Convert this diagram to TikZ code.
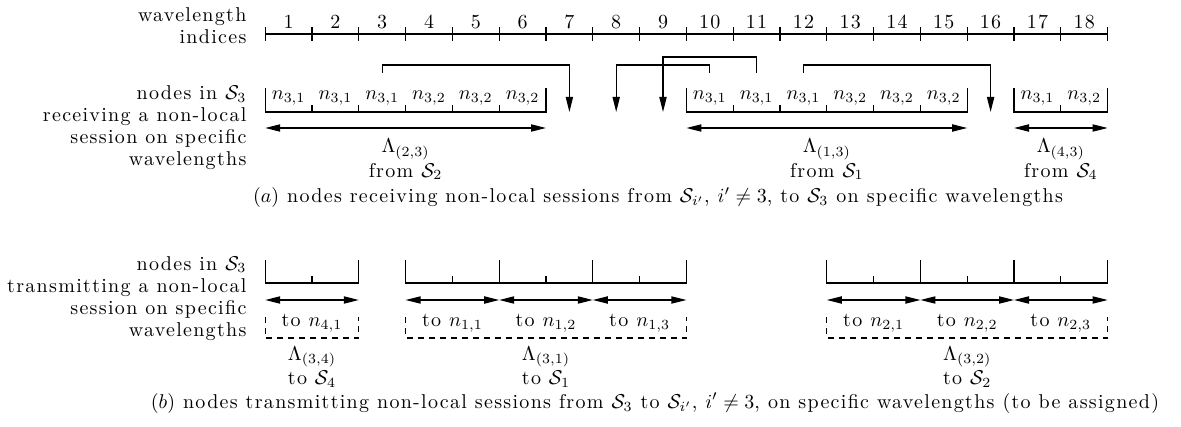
\documentclass[tikz,border=0pt]{standalone}
\usepackage{fontspec}
\setmainfont{Latin Modern Roman}[LetterSpace=6.5]
\usetikzlibrary{arrows.meta}
\begin{document}
\begin{tikzpicture}[x=0.5pt,y=-0.5pt,
  line width=0.6pt,
  conn/.style={-{Triangle[length=7.5pt,width=3.6pt]}},
  dbl/.style={{Triangle[length=7.5pt,width=3.6pt]}-{Triangle[length=7.5pt,width=3.6pt]}},
  lbl/.style={anchor=base east, inner sep=0pt},
  txt/.style={anchor=base, inner sep=0pt},
  dashbox/.style={dash pattern=on 3pt off 2.5pt}
]
\useasboundingbox (0,0) rectangle (1181,427);
\def\X#1{265.2+46.8*(#1)}
% wavelength axis
\foreach \i in {0,...,18}{\coordinate (t\i) at ({\X{\i}},34);}
\draw (t0) -- (t18);
\foreach \i in {0,...,18}{\draw (t\i) ++(0,-7) -- ++(0,14);}
\foreach \i in {1,...,18}{\node[txt] (num\i) at ({\X{\i-0.5}},29) {\i};}
\node[lbl] (l1) at (247,22) {wavelength};
\node[lbl] (l2) at (247,44) {indices};
% receiving part
\node[lbl] (r1) at (247,100) {nodes in $\mathcal{S}_3$};
\node[lbl] (r2) at (247,122) {receiving a non-local};
\node[lbl] (r3) at (247,144) {session on specific};
\node[lbl] (r4) at (247,166) {wavelengths};
\foreach \a/\b in {0/6,9/15,16/18}{
  \draw ({\X{\a}},88) -- ({\X{\a}},112) -- ({\X{\b}},112) -- ({\X{\b}},88);
  \draw[dbl] ({\X{\a}},128) -- ({\X{\b}},128);
}
\foreach \k in {1,...,5,10,11,12,13,14,17}{\draw ({\X{\k}},105) -- ({\X{\k}},112);}
\foreach \k/\s in {1/1,2/1,3/1,4/2,5/2,6/2,10/1,11/1,12/1,13/2,14/2,15/2,17/1,18/2}{
  \node[txt] (n\k) at ({\X{\k-0.5}},100) {$n_{3,\s}$};}
% connectors
\foreach \k in {3,7,8,9,10,11,12,16}{
  \coordinate (s\k) at ({\X{\k-0.5}},73);
  \coordinate (d\k) at ({\X{\k-0.5}},112);}
\draw[conn] (s3) -- ++(0,-8) -| (d7);
\draw[conn] (s10) -- ++(0,-8) -| (d8);
\draw[conn] (s11) -- ++(0,-16) -| (d9);
\draw[conn] (s12) -- ++(0,-8) -| (d16);
\node[txt] (la23) at ({\X{3}},153) {$\Lambda_{(2,3)}$};
\node[txt] (fa23) at ({\X{3}},177) {from $\mathcal{S}_2$};
\node[txt] (la13) at ({\X{12}},153) {$\Lambda_{(1,3)}$};
\node[txt] (fa13) at ({\X{12}},177) {from $\mathcal{S}_1$};
\node[txt] (la43) at ({\X{17}},153) {$\Lambda_{(4,3)}$};
\node[txt] (fa43) at ({\X{17}},177) {from $\mathcal{S}_4$};
\node[txt] (capa) at (658,203) {$(a)$ nodes receiving non-local sessions from $\mathcal{S}_{i'}$, $i'\neq 3$, to $\mathcal{S}_3$ on specific wavelengths};
% transmitting part
\node[lbl] (b1) at (247,270) {nodes in $\mathcal{S}_3$};
\node[lbl] (b2) at (247,292) {transmitting a non-local};
\node[lbl] (b3) at (247,314) {session on specific};
\node[lbl] (b4) at (247,336) {wavelengths};
\foreach \a/\b in {0/2,3/9,12/18}{
  \draw ({\X{\a}},260) -- ({\X{\a}},283) -- ({\X{\b}},283) -- ({\X{\b}},260);
  \draw[dashbox] ({\X{\a}},317) -- ({\X{\a}},338) -- ({\X{\b}},338) -- ({\X{\b}},317);
}
\foreach \k in {5,7,14,16}{\draw ({\X{\k}},260) -- ({\X{\k}},283);}
\foreach \k in {1,4,6,8,13,15,17}{\draw ({\X{\k}},276) -- ({\X{\k}},283);}
\foreach \a/\b in {0/2,3/5,5/7,7/9,12/14,14/16,16/18}{\draw[dbl] ({\X{\a}},300) -- ({\X{\b}},300);}
\node[txt] (to41) at ({\X{1}},326) {to $n_{4,1}$};
\node[txt] (to11) at ({\X{4}},326) {to $n_{1,1}$};
\node[txt] (to12) at ({\X{6}},326) {to $n_{1,2}$};
\node[txt] (to13) at ({\X{8}},326) {to $n_{1,3}$};
\node[txt] (to21) at ({\X{13}},326) {to $n_{2,1}$};
\node[txt] (to22) at ({\X{15}},326) {to $n_{2,2}$};
\node[txt] (to23) at ({\X{17}},326) {to $n_{2,3}$};
\node[txt] (la34) at ({\X{1}},360) {$\Lambda_{(3,4)}$};
\node[txt] (ts4) at ({\X{1}},384) {to $\mathcal{S}_4$};
\node[txt] (la31) at ({\X{6}},360) {$\Lambda_{(3,1)}$};
\node[txt] (ts1) at ({\X{6}},384) {to $\mathcal{S}_1$};
\node[txt] (la32) at ({\X{15}},360) {$\Lambda_{(3,2)}$};
\node[txt] (ts2) at ({\X{15}},384) {to $\mathcal{S}_2$};
\node[txt] (capb) at (655,408) {$(b)$ nodes transmitting non-local sessions from $\mathcal{S}_3$ to $\mathcal{S}_{i'}$, $i'\neq 3$, on specific wavelengths (to be assigned)};
\end{tikzpicture}
\end{document}
